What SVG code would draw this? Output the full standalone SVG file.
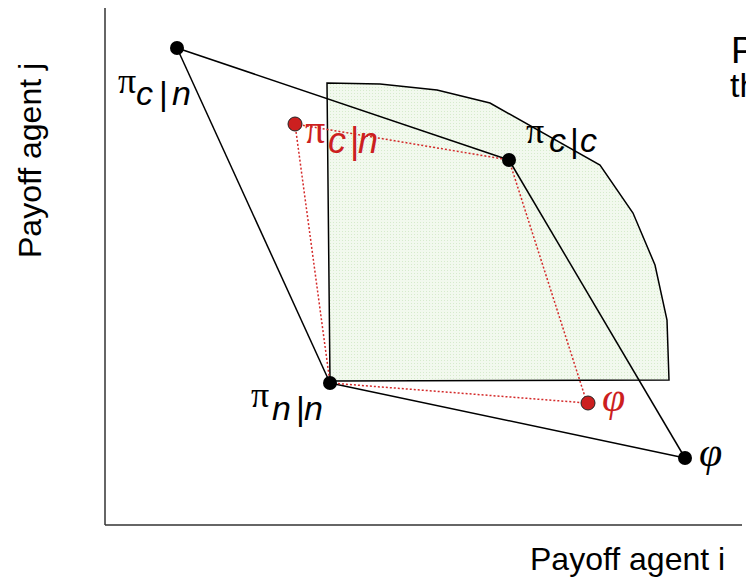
<svg xmlns="http://www.w3.org/2000/svg" width="746" height="584" viewBox="0 0 746 584">
<defs>
<pattern id="dots" width="3" height="3" patternUnits="userSpaceOnUse">
<rect width="3" height="3" fill="#f2f9ee"/>
<rect width="1" height="1" fill="#d6ebcc"/>
</pattern>
<style>
.ax{stroke:#333;stroke-width:1.5;fill:none}
.ln{stroke:#000;stroke-width:1.5;fill:none}
.rd{stroke:#d42a2a;stroke-width:1.5;stroke-dasharray:2 2;fill:none}
.bd{fill:#000}
.rdot{fill:#cc1f1f;stroke:#222;stroke-width:1}
.lbl{font-family:"Liberation Sans",Arial,sans-serif;font-size:32px;fill:#000}
.pi{font-family:"Liberation Serif","Times New Roman",serif;font-size:36px}
.sub{font-family:"Liberation Sans",Arial,sans-serif;font-size:34px}
.it{font-style:italic}
.phi{font-family:"Liberation Serif","Times New Roman",serif;font-style:italic;font-size:42px}
.red{fill:#cc1f1f}
.blk{fill:#000}
</style>
</defs>
<rect width="746" height="584" fill="#fff"/>
<g id="region">
<path d="M327,83 L380,84 L437,90 L490,103 L600,165 L633,213 L655,265 L667,320 L669,380 L330,381 Z" fill="url(#dots)" stroke="#000" stroke-width="1.5"/>
</g>
<g id="axes">
<line class="ax" x1="105" y1="8" x2="105" y2="525"/>
<line class="ax" x1="105" y1="525" x2="742" y2="525"/>
</g>
<g id="connectors">
<line class="ln" x1="177" y1="48" x2="509" y2="160"/>
<line class="ln" x1="177" y1="48" x2="330" y2="383"/>
<line class="ln" x1="509" y1="160" x2="685" y2="458"/>
<line class="ln" x1="330" y1="383" x2="685" y2="458"/>
<line class="rd" x1="295" y1="124" x2="509" y2="160"/>
<line class="rd" x1="295" y1="124" x2="330" y2="383"/>
<line class="rd" x1="509" y1="160" x2="587" y2="403"/>
<line class="rd" x1="330" y1="383" x2="587" y2="403"/>
</g>
<g id="node-pi-cn">
<circle class="bd" cx="177" cy="48" r="7"/>
<text class="blk"><tspan class="pi" x="118" y="93">π</tspan><tspan class="sub it" x="136" y="105">c</tspan><tspan class="sub" x="159" y="105">|</tspan><tspan class="sub it" x="172" y="105">n</tspan></text>
</g>
<g id="node-pi-cc">
<circle class="bd" cx="509" cy="160" r="7"/>
<text class="blk"><tspan class="pi" x="526" y="143">π</tspan><tspan class="sub it" x="549" y="152">c</tspan><tspan class="sub" x="570" y="152">|</tspan><tspan class="sub it" x="580" y="152">c</tspan></text>
</g>
<g id="node-pi-nn">
<circle class="bd" cx="330" cy="383" r="7"/>
<text class="blk"><tspan class="pi" x="251" y="407">π</tspan><tspan class="sub it" x="272" y="420">n</tspan><tspan class="sub" x="296" y="420">|</tspan><tspan class="sub it" x="304" y="420">n</tspan></text>
</g>
<g id="node-phi">
<circle class="bd" cx="685" cy="458" r="7"/>
<text class="phi blk" x="699" y="466">φ</text>
</g>
<g id="node-red-pi-cn">
<circle class="rdot" cx="295" cy="124" r="7"/>
<text class="red"><tspan class="pi" x="305" y="143" style="font-size:40px">π</tspan><tspan class="sub it" x="328" y="153" style="font-size:36px">c</tspan><tspan class="sub" x="350" y="153" style="font-size:36px">|</tspan><tspan class="sub it" x="358" y="153" style="font-size:36px">n</tspan></text>
</g>
<g id="node-red-phi">
<circle class="rdot" cx="588" cy="403" r="7"/>
<text class="phi red" x="602" y="411">φ</text>
</g>
<g id="labels">
<text class="lbl" x="530" y="570">Payoff agent i</text>
<text class="lbl" transform="translate(41,258) rotate(-90)">Payoff agent j</text>
<text class="lbl" x="731" y="63" style="font-size:37px">P</text>
<text class="lbl" x="730" y="97" style="font-size:34px">th</text>
</g>
</svg>
